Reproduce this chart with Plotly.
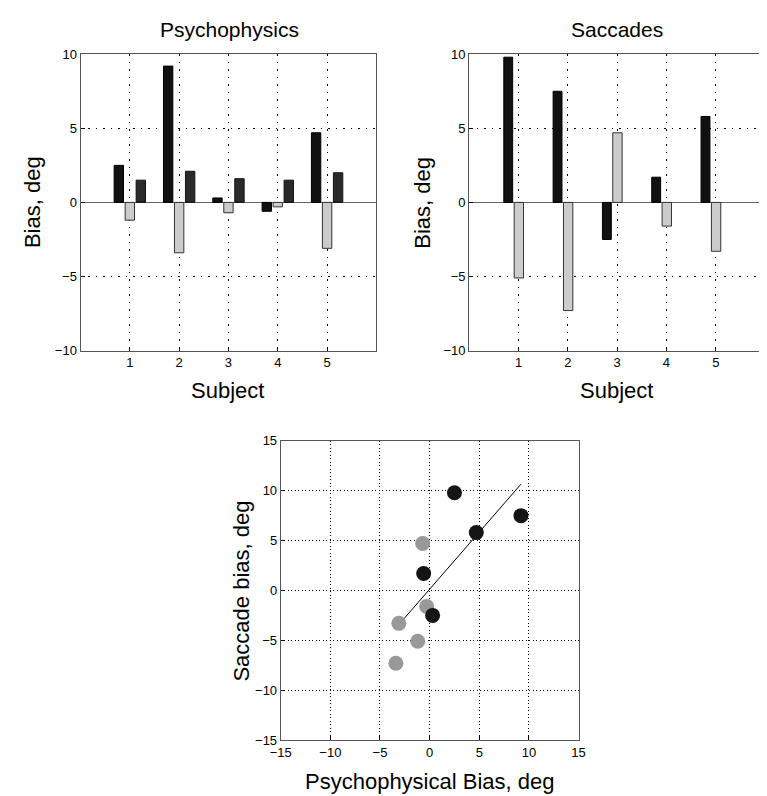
import numpy as np
import plotly.graph_objects as go

subjects = [1, 2, 3, 4, 5]
# Psychophysics panel
psych_black = [2.5, 9.2, 0.3, -0.6, 4.7]
psych_light = [-1.2, -3.4, -0.7, -0.3, -3.1]
psych_dark = [1.5, 2.1, 1.6, 1.5, 2.0]
# Saccades panel
sacc_black = [9.8, 7.5, -2.5, 1.7, 5.8]
sacc_light = [-5.1, -7.3, 4.7, -1.6, -3.3]

bar_ticks = [-10, -5, 0, 5, 10]
sc_ticks = [-15, -10, -5, 0, 5, 10, 15]

FONT = "Liberation Sans, Arial, Helvetica, sans-serif"
W, H = 767, 796

def dom_x(a, b):
    return [a / W, b / W]

def dom_y(top, bottom):
    return [1 - bottom / H, 1 - top / H]

fig = go.Figure()

bw = 0.19
# Left panel bars
fig.add_trace(go.Bar(x=subjects, y=psych_black, width=bw, offset=-0.318,
                     marker=dict(color="#111111", line=dict(color="#000000", width=1)),
                     xaxis="x", yaxis="y", showlegend=False))
fig.add_trace(go.Bar(x=subjects, y=psych_light, width=bw, offset=-0.095,
                     marker=dict(color="#cccccc", line=dict(color="#333333", width=1)),
                     xaxis="x", yaxis="y", showlegend=False))
fig.add_trace(go.Bar(x=subjects, y=psych_dark, width=bw, offset=0.128,
                     marker=dict(color="#2a2a2a", line=dict(color="#111111", width=1)),
                     xaxis="x", yaxis="y", showlegend=False))
# Right panel bars
fig.add_trace(go.Bar(x=subjects, y=sacc_black, width=0.18, offset=-0.298,
                     marker=dict(color="#111111", line=dict(color="#000000", width=1)),
                     xaxis="x2", yaxis="y2", showlegend=False))
fig.add_trace(go.Bar(x=subjects, y=sacc_light, width=bw, offset=-0.088,
                     marker=dict(color="#cccccc", line=dict(color="#333333", width=1)),
                     xaxis="x2", yaxis="y2", showlegend=False))

# Scatter panel
all_x = np.array(psych_black + psych_light)
all_y = np.array(sacc_black + sacc_light)
slope, intercept = np.polyfit(all_x, all_y, 1)
lx = np.array([all_x.min(), all_x.max()])
fig.add_trace(go.Scatter(x=lx, y=slope * lx + intercept, mode="lines",
                         line=dict(color="#000000", width=1),
                         xaxis="x3", yaxis="y3", showlegend=False))
fig.add_trace(go.Scatter(x=psych_light, y=sacc_light, mode="markers",
                         marker=dict(size=15, color="#999999"),
                         xaxis="x3", yaxis="y3", showlegend=False))
fig.add_trace(go.Scatter(x=psych_black, y=sacc_black, mode="markers",
                         marker=dict(size=15, color="#151515"),
                         xaxis="x3", yaxis="y3", showlegend=False))

def axis_common(dash):
    return dict(showline=True, linecolor="#555555", linewidth=1, mirror=True,
                ticks="inside", ticklen=4, tickcolor="#000000",
                showgrid=True, gridcolor="#000000", griddash=dash, gridwidth=1,
                tickfont=dict(size=13, color="#000000", family=FONT))

bar_dash = "1.5px,6px"
sc_dash = "1px,2.5px"

fig.update_layout(
    width=W, height=H,
    margin=dict(l=0, r=0, t=0, b=0),
    paper_bgcolor="white", plot_bgcolor="white",
    barmode="overlay",
    font=dict(family=FONT, color="#000000"),
    xaxis=dict(domain=dom_x(63, 366), range=[0, 6], tickvals=subjects,
               zeroline=False, anchor="y", **axis_common(bar_dash)),
    yaxis=dict(domain=dom_y(40, 342), range=[-10, 10], tickvals=bar_ticks,
               zeroline=True, zerolinecolor="#666666", zerolinewidth=1,
               anchor="x", **axis_common(bar_dash)),
    xaxis2=dict(domain=dom_x(461, 764), range=[0, 6], tickvals=subjects,
                zeroline=False, anchor="y2", **axis_common(bar_dash)),
    yaxis2=dict(domain=dom_y(40, 342), range=[-10, 10], tickvals=bar_ticks,
                zeroline=True, zerolinecolor="#666666", zerolinewidth=1,
                anchor="x2", **axis_common(bar_dash)),
    xaxis3=dict(domain=dom_x(268, 573), range=[-15, 15], tickvals=sc_ticks,
                zeroline=False, anchor="y3", **axis_common(sc_dash)),
    yaxis3=dict(domain=dom_y(434, 739), range=[-15, 15], tickvals=sc_ticks,
                zeroline=False, anchor="x3", **axis_common(sc_dash)),
)

ann = []
def add_text(text, x, y, size, angle=0):
    ann.append(dict(text=text, x=x / W, y=1 - y / H, xref="paper", yref="paper",
                    showarrow=False, xanchor="center", yanchor="middle",
                    textangle=angle, font=dict(size=size, family=FONT, color="#000000")))

add_text("Psychophysics", 216, 15, 21)
add_text("Saccades", 612, 15, 21)
add_text("Bias, deg", 14, 191, 22, -90)
add_text("Bias, deg", 413, 191, 22, -90)
add_text("Subject", 214, 383, 22)
add_text("Subject", 612, 383, 22)
add_text("Saccade bias, deg", 228, 587, 22, -90)
add_text("Psychophysical Bias, deg", 420, 781, 22)
fig.update_layout(annotations=ann)

fig.write_html("out.html")
